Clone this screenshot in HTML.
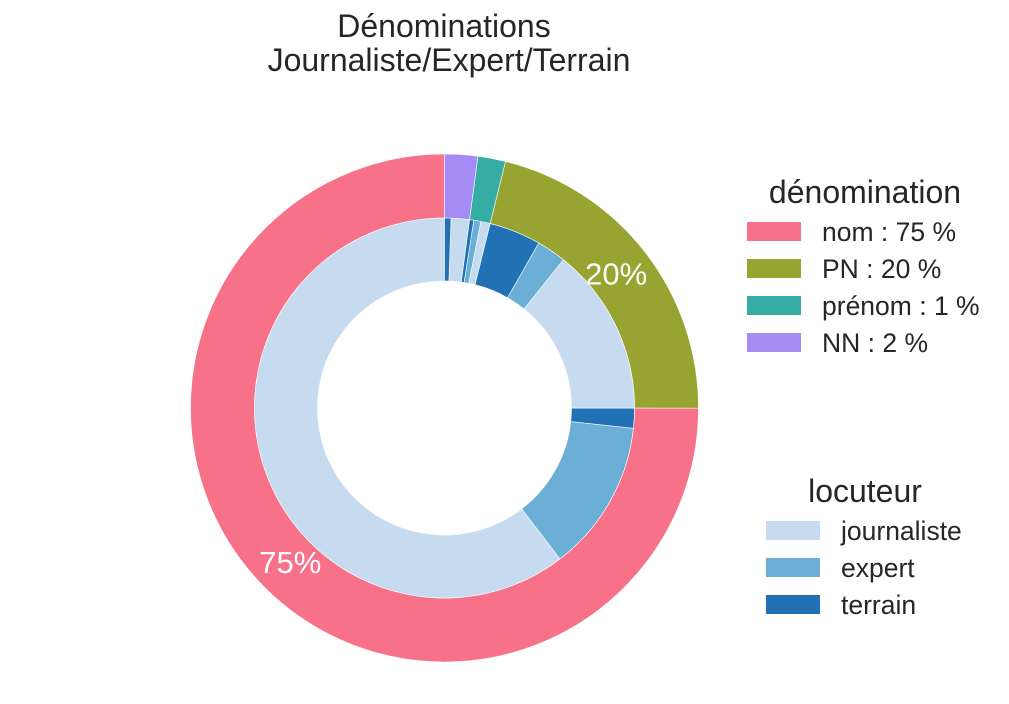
<!DOCTYPE html>
<html><head><meta charset="utf-8"><style>
body{margin:0;background:#fff;}
svg{display:block;font-family:"Liberation Sans",sans-serif;}
</style></head><body>
<svg id="chart" width="1009" height="704" viewBox="0 0 1009 704">
<text x="444" y="37" text-anchor="middle" font-size="32" fill="#262626">Dénominations</text>
<text x="449" y="71" text-anchor="middle" font-size="32" fill="#262626">Journaliste/Expert/Terrain</text>
<g id="rings"></g>
<g id="legends"></g>
</svg>
<script>
const categories = ["nom", "PN", "prénom", "NN"];
const legendLabels = ["nom : 75 %", "PN : 20 %", "prénom : 1 %", "NN : 2 %"];
const speakers = ["journaliste", "expert", "terrain"];
const journalisteValues = [60.4, 14.25, 0.8, 1.55];
const expertValues = [12.9, 2.5, 0.6, 0];
const terrainValues = [1.7, 4.4, 0.36, 0.55];
const pctLabels = ["75%", "20%", "", ""];

const catColors = ["#f77189", "#97a431", "#36ada4", "#a48cf4"];
const spkColors = ["#c6dbef", "#6baed6", "#2171b5"];
const NS = "http://www.w3.org/2000/svg";
const cx = 444.5, cy = 408, R1 = 254, R2 = 190, R3 = 127;
const rings = document.getElementById('rings');

const outerVals = categories.map((c, i) => journalisteValues[i] + expertValues[i] + terrainValues[i]);
const total = outerVals.reduce((a, b) => a + b, 0);
function ang(v) { return v / total * 2 * Math.PI; }
function pt(a, r) { return [cx + r * Math.cos(a), cy - r * Math.sin(a)]; }
function wedge(a0, a1, ro, ri, fill) {
  const p = document.createElementNS(NS, 'path');
  const large = (a1 - a0) > Math.PI ? 1 : 0;
  const [x0, y0] = pt(a0, ro), [x1, y1] = pt(a1, ro), [x2, y2] = pt(a1, ri), [x3, y3] = pt(a0, ri);
  p.setAttribute('d', `M${x0},${y0} A${ro},${ro} 0 ${large} 0 ${x1},${y1} L${x2},${y2} A${ri},${ri} 0 ${large} 1 ${x3},${y3} Z`);
  p.setAttribute('fill', fill);
  p.setAttribute('stroke', '#fff');
  p.setAttribute('stroke-width', '0.6');
  rings.appendChild(p);
  return p;
}
let a = Math.PI / 2;
categories.forEach((c, i) => {
  const span = ang(outerVals[i]);
  const w = wedge(a, a + span, R1, R2, catColors[i]);
  
  
  if (pctLabels[i]) {
    const [tx, ty] = pt(a + span / 2, 218);
    const t = document.createElementNS(NS, 'text');
    
    
    t.setAttribute('x', tx); t.setAttribute('y', ty + 11);
    t.setAttribute('text-anchor', 'middle'); t.setAttribute('font-size', '31'); t.setAttribute('fill', '#fff');
    t.textContent = pctLabels[i];
    rings.appendChild(t);
  }
  a += span;
});
a = Math.PI / 2;
const spkVals = [journalisteValues, expertValues, terrainValues];
categories.forEach((c, i) => {
  spkVals.forEach((arr, k) => {
    const span = ang(arr[i]);
    if (span > 0) {
      const w = wedge(a, a + span, R2, R3, spkColors[k]);
      
      
    }
    a += span;
  });
});

const lg = document.getElementById('legends');
function addText(x, y, s, size, anchor, name) {
  const t = document.createElementNS(NS, 'text');
  
  
  t.setAttribute('x', x); t.setAttribute('y', y); t.setAttribute('font-size', size);
  t.setAttribute('fill', '#262626'); t.setAttribute('text-anchor', anchor);
  t.textContent = s; lg.appendChild(t);
}
function addPatch(x, y, color, name) {
  const r = document.createElementNS(NS, 'rect');
  
  
  r.setAttribute('x', x); r.setAttribute('y', y); r.setAttribute('width', 54); r.setAttribute('height', 19);
  r.setAttribute('fill', color); lg.appendChild(r);
}
addText(865, 203, 'dénomination', 32, 'middle', 'legend-title-denomination');
legendLabels.forEach((s, i) => {
  addPatch(747, 222 + i * 37, catColors[i], 'legend-patch-' + categories[i]);
  addText(822, 241 + i * 37, s, 26.5, 'start', 'legend-label-' + categories[i]);
});
addText(865, 502, 'locuteur', 32, 'middle', 'legend-title-locuteur');
speakers.forEach((s, i) => {
  addPatch(766, 521 + i * 37, spkColors[i], 'legend-patch-' + s);
  addText(841, 540 + i * 37, s, 26.5, 'start', 'legend-label-' + s);
});
</script>
</body></html>
